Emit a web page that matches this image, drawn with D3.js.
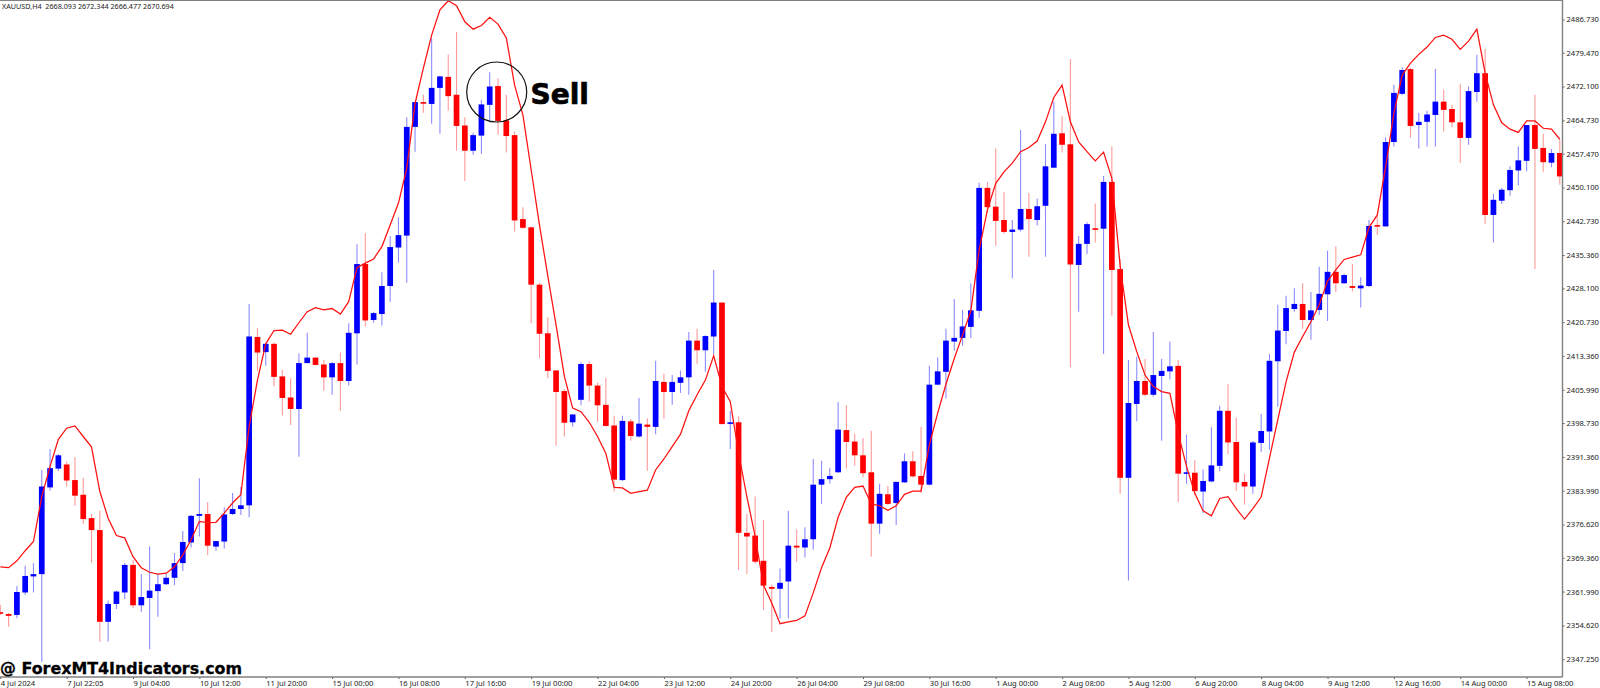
<!DOCTYPE html>
<html>
<head>
<meta charset="utf-8">
<title>XAUUSD H4</title>
<script src="https://cdn.jsdelivr.net/npm/d3@7"></script>
<style>
  html, body { margin: 0; padding: 0; background: #fff; overflow: hidden; }
  .axis text { font-family: "Noto Sans", sans-serif; font-size: 7.6px; fill: #222; }
</style>
</head>
<body>
<svg id="chart" width="1600" height="688"></svg>
<script>
const opens = [2357.5,2357.1,2356.9,2361.8,2365.3,2365.8,2384.7,2388.8,2389.7,2386.3,
  2383.1,2378,2375.4,2355.4,2359.3,2361.8,2367.8,2359,2360.6,2362.1,
  2363.6,2365,2368.2,2372.7,2378.5,2378.9,2371.8,2372.9,2378.9,2380,
  2380.8,2417.5,2414.2,2416,2408.9,2404.3,2401.8,2411.8,2413,2411.5,
  2408.7,2411.8,2407.9,2418.3,2433.4,2421.2,2422.5,2428.6,2437,2439.6,
  2463.3,2468.7,2468.3,2471.8,2474.2,2470.3,2463.6,2458.1,2461.4,2468.1,
  2472.2,2464.7,2461.5,2443.2,2441.4,2428.9,2418.3,2410.2,2405.7,2398.9,
  2403.8,2411.6,2406.9,2402.7,2398.2,2386.3,2399.1,2395.8,2398.4,2397.9,
  2407.7,2405.5,2407.5,2408.7,2416.7,2414.6,2417.6,2425,2398.6,2398.9,
  2374.8,2374.2,2368.7,2363,2362.6,2364.2,2372,2371.6,2373.4,2385.3,
  2386.5,2388,2397.2,2394.7,2391.7,2388,2376.8,2383.2,2381.3,2385.8,
  2390.4,2387.2,2385.3,2407.1,2409.9,2416.5,2417.3,2419.7,2423.2,2450,
  2445.9,2443,2440.4,2440.9,2445.4,2443,2446.1,2454.4,2461.9,2459.5,
  2433.2,2437.8,2441.2,2441.1,2451.3,2432.3,2386.8,2402.9,2407.9,2404.9,
  2409,2410,2411.2,2387.7,2387.9,2383.8,2386,2389.4,2401.4,2394.6,
  2385.9,2384.9,2394.4,2396.9,2412.2,2418.8,2423.6,2424.7,2421.2,2423.4,
  2426.8,2431.7,2429.2,2428.6,2428.1,2428.6,2441.9,2441.6,2460,2470.5,
  2475.9,2463.7,2464.4,2465.9,2468.8,2467.2,2464.3,2460.9,2470.9,2475,
  2444.1,2447.2,2449.5,2453.8,2455.9,2463.7,2458.7,2455.5,2457.6];

const closes = [2357.2,2356.7,2361.9,2365.4,2365.8,2384.9,2388.9,2391.7,2386.2,2382.9,
  2377.8,2375.4,2355.4,2359.3,2362,2367.8,2359,2360.8,2362.2,2363.6,
  2365,2368.2,2372.8,2378.5,2378.9,2372,2373,2378.8,2380,2380.8,
  2417.6,2414.1,2416,2408.8,2404.2,2401.8,2411.8,2413,2411.4,2408.7,
  2411.8,2407.9,2418.4,2433.4,2421.1,2422.7,2428.6,2437.1,2439.7,2463.3,
  2468.7,2468.4,2471.8,2474.3,2470,2463.5,2458.1,2461.5,2468.2,2472.1,
  2464.6,2461.3,2442.9,2441.3,2428.9,2418.2,2410.1,2405.5,2398.8,2400.6,
  2411.6,2406.9,2402.6,2398.1,2386.4,2399.2,2395.9,2398.6,2397.9,2407.9,
  2405.5,2407.7,2408.7,2416.7,2414.6,2417.7,2425,2398.5,2398.9,2374.8,
  2374,2368.5,2363.3,2362.6,2363.9,2372,2371.6,2373.4,2385.3,2386.5,
  2387.2,2397.3,2394.6,2391.7,2387.8,2376.8,2383.3,2381.1,2385.9,2390.4,
  2387.1,2385.3,2407.1,2410,2416.7,2417.3,2419.8,2423.3,2450,2445.8,
  2442.8,2440.4,2440.9,2445.4,2443.2,2446,2454.7,2461.8,2459.4,2433.3,
  2437.8,2442.1,2441,2451.3,2432.1,2386.8,2403.1,2407.9,2404.9,2409.2,
  2410.1,2411.1,2387.7,2388,2383.9,2386.1,2389.5,2401.4,2394.5,2385.8,
  2384.9,2394.5,2397,2412.3,2418.9,2423.8,2424.7,2421.2,2423.3,2426.9,
  2431.7,2429.2,2431,2428.2,2428.7,2441.7,2441.7,2460,2470.7,2475.7,
  2463.5,2464.4,2466,2468.8,2467,2464.3,2460.9,2471.1,2475,2444.1,
  2447.4,2449.6,2453.9,2456,2463.7,2458.5,2455.6,2457.6,2452.5];

const highs = [2359.1,2357.3,2363.2,2367.6,2368.2,2388.5,2393.1,2392,2390.3,2391.3,
  2386.8,2378.9,2379.6,2360,2362.2,2368.2,2368.9,2365.8,2371.8,2365.8,
  2365.8,2370.4,2375.2,2378.7,2386.7,2381.5,2373.1,2380.3,2383.5,2384.8,
  2424.7,2419.4,2416.2,2416.3,2410.3,2408.5,2413.9,2418.4,2413.1,2412.5,
  2412,2414.1,2420.5,2437.7,2440.1,2423,2431.6,2439.5,2443.6,2465.4,
  2468.7,2470.3,2482.6,2474.4,2479.1,2484,2465.4,2462,2469.2,2475.2,
  2473.9,2470.3,2462.3,2445.8,2441.5,2429.3,2421.8,2410.3,2406.1,2400.7,
  2412,2412.2,2407.5,2408.6,2400.3,2400.3,2399.6,2404.2,2399.8,2412.3,
  2409.5,2409.2,2410.2,2418.6,2419.3,2417.9,2432.1,2425,2401.4,2400.2,
  2378.9,2382.7,2377.6,2363.5,2367,2379.6,2375.5,2376,2390.9,2390.5,
  2389,2403.3,2402.6,2396.4,2395.5,2397,2385.5,2385,2386,2392.1,
  2392.6,2397.9,2411.2,2413,2419.3,2425.8,2423.4,2429.2,2451.1,2451.3,
  2458.6,2449.1,2443,2462.6,2448.9,2447.7,2459.6,2468.8,2465.6,2478.1,
  2439.5,2442.5,2446.6,2452.6,2459,2434.5,2412.5,2413.2,2412.7,2418.6,
  2412.7,2416.5,2412.5,2396.2,2390.7,2388.6,2397.8,2402.5,2407.3,2399.9,
  2387.7,2394.8,2400.7,2413.8,2424.5,2426.5,2428.1,2429.2,2427.3,2432.8,
  2436.3,2437.2,2431.3,2433.4,2430.5,2443,2443.9,2461,2472.5,2476.3,
  2476.1,2466.3,2466.8,2475.9,2471.4,2468.1,2472.7,2472.1,2479,2480.3,
  2448.7,2450,2454.7,2459,2463.7,2470.3,2461.8,2458.5,2460.5];

const lows = [2356.9,2354.3,2356.2,2361.3,2361.8,2346.7,2384,2388.3,2384.9,2380.7,
  2376.7,2368.3,2351,2351.1,2358.2,2360.4,2358.4,2357.6,2349.4,2356.5,
  2363.4,2363.4,2366.5,2371.6,2374,2369.9,2370.9,2371.4,2378.7,2378.7,
  2378.2,2410.1,2411.2,2406.7,2400.4,2398.3,2391.4,2411.8,2411.3,2405.8,
  2404.9,2401.4,2406.9,2411.5,2419.8,2420.6,2420,2425.1,2433.7,2429.3,
  2457.9,2466.4,2464,2461.8,2466.8,2458.1,2451.5,2457.2,2457.4,2464.7,
  2461.6,2457.7,2440.5,2441.1,2420.5,2412.9,2408.5,2393.8,2395.8,2398,
  2402.6,2403.4,2399,2398,2383.8,2386.1,2394.9,2395.6,2388.3,2396.3,
  2399.7,2402.7,2405.3,2404.9,2411.6,2409.9,2413.6,2398.5,2393.1,2366.7,
  2365.8,2368.1,2358,2353.2,2356.1,2356.1,2368.5,2369.4,2371.1,2381.1,
  2385.5,2387.9,2388.8,2389.4,2386.9,2369.6,2374.6,2380.9,2376.5,2385.7,
  2386.9,2383.5,2385.1,2407,2404.1,2414.5,2415.6,2417.3,2421.7,2444.6,
  2437.4,2440,2430.3,2440.5,2435,2441.8,2435,2454.3,2457.7,2410.9,
  2423,2435.6,2438.1,2413.8,2422.2,2383.3,2364.4,2399.1,2404.5,2404.5,
  2394.9,2408.2,2381.5,2385.5,2383.1,2379.1,2385.8,2388.3,2392,2383.9,
  2380.9,2383.3,2392.5,2392.9,2402.3,2415.9,2423,2419.3,2416.9,2422.3,
  2421,2427.3,2429.1,2427.4,2423.9,2428.4,2439.8,2441.6,2459,2470.2,
  2460.9,2458.6,2459,2459,2462.3,2463.2,2455.4,2459.4,2468.8,2442.2,
  2438.1,2446.5,2448.3,2450.5,2453.6,2432.3,2453.5,2454.5,2450.7];

const bandLine = [2367.4,2367.2,2368.7,2370.9,2372.9,2382.7,2389.3,2395.2,2397.6,2398.1,
  2395.8,2393.5,2383.8,2378,2374.2,2373.7,2369.6,2367.2,2366.2,2365.8,
  2366,2367.4,2370,2373.3,2377.3,2377,2377.1,2379.1,2381.3,2383.1,
  2398,2408.1,2416,2418.9,2419,2418.1,2420.6,2423,2423.9,2423.4,
  2423.7,2422.5,2425.2,2432.6,2433.6,2434.5,2437.2,2441.9,2446.7,2454.3,
  2468.4,2476.1,2483.3,2488.8,2490.8,2489.7,2486.2,2484.6,2485.4,2487.2,
  2485.7,2482.7,2472.4,2465.9,2453.9,2441.9,2430.8,2420.1,2408.9,2402,
  2401.2,2398.9,2395.8,2392.1,2384.7,2384.6,2383.4,2383.8,2384.1,2388.5,
  2390.9,2393.6,2396.3,2401.4,2404.9,2408.1,2413.4,2406.7,2403.4,2392.2,
  2382.7,2374,2363.4,2359.5,2355,2355.4,2355.7,2356.7,2361.7,2367.2,
  2371.5,2378.2,2382.6,2384.7,2385,2381.1,2380.7,2379.7,2380.7,2383.2,
  2383.9,2383.9,2394,2400.9,2407.2,2412.8,2417.9,2423.2,2436.5,2445.2,
  2451,2453.5,2455.4,2457.9,2458.8,2460.2,2464.4,2469.7,2472.4,2464.4,
  2460,2457.9,2455.9,2457.8,2452.1,2433,2420.1,2414.3,2409.2,2406.7,
  2405.6,2405.2,2396.5,2389.3,2383.4,2379.6,2378.5,2382.3,2382.7,2380.1,
  2377.8,2380.1,2382.6,2391.1,2399.4,2407.7,2414.2,2417.6,2420.8,2424.5,
  2429.7,2432.1,2434.4,2434.9,2435.4,2441.4,2444.1,2454.6,2466.3,2474.6,
  2477.2,2479.1,2480.7,2482.8,2483.3,2482.4,2480.2,2482,2484.6,2475,
  2468.1,2464.2,2462.8,2462.1,2464.6,2464.6,2463,2462.8,2460.6];

const priceTicks = [2486.73,2479.47,2472.1,2464.73,2457.47,2450.1,2442.73,2435.36,2428.1,
  2420.73,2413.36,2405.99,2398.73,2391.36,2383.99,2376.62,2369.36,2361.99,2354.62,2347.25];

const timeLabels = ["4 Jul 2024","7 Jul 22:05","9 Jul 04:00","10 Jul 12:00","11 Jul 20:00","15 Jul 00:00",
  "16 Jul 08:00","17 Jul 16:00","19 Jul 00:00","22 Jul 04:00","23 Jul 12:00","24 Jul 20:00",
  "26 Jul 04:00","29 Jul 08:00","30 Jul 16:00","1 Aug 00:00","2 Aug 08:00","5 Aug 12:00",
  "6 Aug 20:00","8 Aug 04:00","9 Aug 12:00","12 Aug 16:00","14 Aug 00:00","15 Aug 08:00"];

const headerText = "XAUUSD,H4  2668.093 2672.344 2666.477 2670.694";
const barsPerLabel = 8;

const width = 1600, height = 688;
const plotRight = 1562.5, plotBottom = 677;

const svg = d3.select("#chart");

const x = d3.scaleLinear().domain([0, opens.length - 1]).range([0.3, 1559.8]);
const y = d3.scaleLinear().domain([2490.96, 2347.25]).range([0, 659.2]);

svg.append("defs").append("clipPath").attr("id", "plot")
  .append("rect").attr("width", plotRight).attr("height", plotBottom);

const candles = opens.map((o, i) => ({ i, o, c: closes[i], h: highs[i], l: lows[i] }));
const isUp = d => d.c >= d.o;

const plot = svg.append("g").attr("clip-path", "url(#plot)");

plot.selectAll("line.wick").data(candles).join("line")
  .attr("class", "wick")
  .attr("x1", d => x(d.i)).attr("x2", d => x(d.i))
  .attr("y1", d => y(d.h)).attr("y2", d => y(d.l))
  .attr("stroke", d => isUp(d) ? "#8c8cff" : "#ff9a9a")
  .attr("stroke-width", 1.1);

plot.selectAll("rect.body").data(candles).join("rect")
  .attr("class", "body")
  .attr("x", d => x(d.i) - 2.85)
  .attr("width", 5.7)
  .attr("y", d => y(Math.max(d.o, d.c)))
  .attr("height", d => Math.max(1.6, Math.abs(y(d.o) - y(d.c))))
  .attr("fill", d => isUp(d) ? "#0000ff" : "#ff0000");

const line = d3.line().x((d, i) => x(i)).y(d => y(d));
plot.append("path").datum(bandLine)
  .attr("d", line)
  .attr("fill", "none")
  .attr("stroke", "#ff1010")
  .attr("stroke-width", 1.25);

// frame
svg.append("line").attr("x1", 0).attr("x2", plotRight).attr("y1", 0.5).attr("y2", 0.5)
  .attr("stroke", "#808080").attr("stroke-width", 1.2);

// axes
const yAxis = d3.axisRight(y).tickValues(priceTicks).tickFormat(d3.format(".3f")).tickSize(2).tickPadding(2);
const yG = svg.append("g").attr("class", "axis").attr("transform", `translate(${plotRight},0)`).call(yAxis);
yG.select(".domain").remove();
yG.selectAll(".tick line").attr("stroke", "#555");

const xAxis = d3.axisBottom(x)
  .tickValues(timeLabels.map((d, k) => k * barsPerLabel))
  .tickFormat(d => timeLabels[d / barsPerLabel])
  .tickSize(2).tickPadding(2);
const xG = svg.append("g").attr("class", "axis").attr("transform", `translate(0,${plotBottom})`).call(xAxis);
xG.select(".domain").remove();
xG.selectAll(".tick line").attr("stroke", "#555");
xG.selectAll(".tick text").attr("text-anchor", "start");

svg.append("line").attr("x1", 0).attr("x2", plotRight).attr("y1", plotBottom).attr("y2", plotBottom)
  .attr("stroke", "#808080").attr("stroke-width", 1.4);
svg.append("line").attr("x1", plotRight).attr("x2", plotRight).attr("y1", 0).attr("y2", plotBottom)
  .attr("stroke", "#808080").attr("stroke-width", 1.4);

svg.append("text").attr("x", 2).attr("y", 8.5)
  .style("white-space", "pre")
  .attr("font-family", "Noto Sans, sans-serif").attr("font-size", 7.2).attr("fill", "#222")
  .text(headerText);

// annotation
svg.append("circle").attr("cx", x(59) + 7).attr("cy", y(2470.9)).attr("r", 30)
  .attr("fill", "none").attr("stroke", "#111").attr("stroke-width", 1.2);
svg.append("text").attr("x", 530.5).attr("y", 103.5)
  .attr("font-family", "DejaVu Sans, sans-serif").attr("font-weight", 700).attr("font-size", 28)
  .attr("fill", "#000").attr("stroke", "#000").attr("stroke-width", 0.7).text("Sell");

svg.append("text").attr("x", 0).attr("y", 673.5)
  .attr("font-family", "DejaVu Sans, sans-serif").attr("font-weight", 700).attr("font-size", 15.9)
  .attr("fill", "#000").attr("stroke", "#000").attr("stroke-width", 0.3).text("@ ForexMT4Indicators.com");
</script>
</body>
</html>
